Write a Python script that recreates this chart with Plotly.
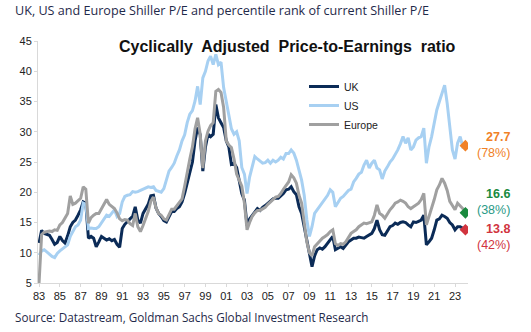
import pandas as pd
import plotly.graph_objects as go

# Quarterly dates, 1983Q1 .. 2024Q1
dates = pd.date_range("1983-01-01", "2024-01-01", freq="QS")

uk = [
    11.6, 13.7, 13.2, 13.0,  12.9, 12.2, 11.4, 11.7,  12.7, 12.0, 11.6, 12.8,
    14.3, 15.0, 15.4, 16.2,  17.1, 18.4, 18.2, 12.4,  12.7, 12.4, 11.0, 11.8,
    12.7, 12.4, 12.1, 12.3,  12.0, 12.2, 11.4, 10.9,  14.0, 14.7, 15.2, 15.6,
    16.0, 17.6, 15.4, 14.9,  16.5, 17.2, 18.0, 19.4,  19.5, 17.4, 16.5, 16.0,
    15.3, 15.1, 15.9, 16.8,  16.8, 17.3, 17.6, 18.4,  19.8, 21.5, 23.5, 25.0,
    28.5, 30.7, 29.5, 23.5,  27.5, 29.6, 29.2, 29.6,  34.5, 32.3, 31.5, 30.7,
    28.5, 27.5, 24.6, 24.8,  24.1, 22.0, 19.8, 18.7,  14.5, 15.6, 16.2, 16.8,
    17.3, 17.0, 17.5, 17.8,  18.2, 18.5, 18.9, 19.0,  19.0, 19.4, 19.8, 20.4,
    20.5, 20.9, 20.1, 19.6,  17.6, 16.5, 14.3, 11.5,  9.5, 7.7, 9.5, 10.5,
    10.8, 10.6, 11.0, 11.6,  12.2, 12.7, 10.5, 10.8,  11.0, 10.7, 11.3, 11.8,
    12.1, 12.4, 12.4, 12.6,  12.5, 12.4, 12.7, 12.9,  13.2, 14.0, 15.4, 13.8,
    13.0, 12.9, 13.7, 14.3,  14.5, 14.9, 14.7, 15.0,  15.1, 15.0, 14.6, 14.3,
    15.1, 15.0, 15.2, 15.4,  16.2, 11.3, 11.8, 12.4,  13.8, 15.4, 15.6, 16.2,
    16.0, 15.7, 15.0, 14.6,  13.8, 14.3, 14.3, 14.0,  13.8,
]

us = [
    9.6, 10.3, 10.5, 10.1,  9.8, 9.4, 9.2, 9.9,  10.3, 10.6, 11.0, 11.3,
    12.7, 13.5, 14.3, 14.6,  15.4, 18.2, 18.0, 14.0,  14.1, 14.0, 14.0, 14.3,
    14.9, 15.5, 16.2, 16.0,  16.5, 17.1, 16.0, 16.5,  18.4, 19.3, 19.5, 19.6,
    20.1, 20.0, 20.1, 20.3,  20.6, 20.8, 20.9, 20.8,  20.9, 20.3, 20.1, 20.0,
    20.6, 22.0, 23.5, 24.1,  24.8, 26.0, 27.0, 28.5,  29.5, 31.5, 32.9, 33.5,
    35.1, 37.5, 34.5, 38.9,  40.0, 41.7, 42.5, 41.1,  42.8, 41.1, 41.5, 37.3,
    35.0, 32.9, 30.5, 29.6,  30.0, 28.5, 24.1, 23.0,  19.8, 22.5, 24.0, 25.9,
    25.5, 25.2, 24.8, 24.9,  25.3, 24.8, 25.3, 25.0,  25.3, 25.8, 25.5, 26.4,
    26.4, 27.0, 26.5, 25.3,  23.5, 22.0, 19.5, 15.5,  12.7, 14.3, 16.5, 17.1,
    17.6, 18.2, 18.7, 19.5,  20.4, 20.0, 17.6, 18.2,  19.0, 19.3, 19.8, 20.3,
    20.5, 21.7, 22.3, 23.0,  23.3, 24.5, 25.3, 24.0,  24.8, 25.3, 24.0, 23.7,
    22.2, 23.5, 24.2, 25.0,  25.5, 26.2, 27.0, 28.0,  29.2, 28.1, 29.0, 27.0,
    27.5, 28.6, 29.0, 29.2,  30.6, 24.8, 27.5, 29.2,  31.5, 33.6, 35.0, 36.3,
    37.7, 34.7, 30.8, 27.0,  25.5, 28.1, 29.2, 27.5,  27.7,
]

europe = [
    5.0, 13.0, 13.4, 13.5,  13.6, 13.5, 13.8, 13.7,  14.6, 15.0, 15.8, 16.5,
    19.4, 18.0, 18.2, 18.6,  19.0, 20.9, 20.5, 14.9,  15.8, 16.2, 16.5, 16.5,
    17.3, 18.2, 18.8, 18.0,  17.6, 17.3, 16.6, 15.6,  15.3, 15.5, 15.4, 14.8,
    14.5, 16.5, 14.3, 13.5,  14.5, 15.5, 16.8, 18.5,  19.2, 17.4, 16.5, 16.2,
    15.6, 15.4, 16.2, 17.2,  17.2, 17.8, 18.3, 18.9,  21.0, 23.5, 25.5, 27.5,
    30.5, 32.3, 29.6, 24.0,  28.5, 30.1, 31.0, 31.5,  36.7, 37.0, 36.5, 34.0,
    28.5, 27.8, 27.4, 25.5,  23.0, 22.0, 21.0, 18.2,  13.8, 15.0, 16.0, 16.6,
    17.0, 17.0, 17.3, 17.5,  18.0, 18.4, 18.8, 19.2,  19.3, 19.8, 20.5, 21.2,
    21.7, 22.9, 22.4, 21.5,  19.5, 18.2, 15.0, 11.8,  10.0, 9.5, 11.0, 11.5,
    12.0, 12.4, 12.7, 13.0,  13.5, 13.8, 11.5, 11.2,  11.5, 11.4, 11.8, 12.5,
    13.2, 13.5, 13.8, 14.3,  14.6, 14.9, 14.8, 15.0,  15.1, 16.2, 17.9, 16.5,
    16.2, 15.7, 16.5, 17.1,  17.6, 18.2, 18.4, 18.7,  18.5, 18.2, 17.6, 17.3,
    17.6, 17.9, 18.2, 18.8,  19.8, 14.6, 16.0, 17.1,  18.8, 20.4, 21.2, 22.3,
    21.5, 20.3, 18.5, 17.8,  17.1, 18.2, 17.8, 17.3,  16.6,
]

percentiles = {"US": "(78%)", "Europe": "(38%)", "UK": "(42%)"}

tick_years = list(range(1983, 2024, 2))
tick_labels = [f"{y % 100:02d}" for y in tick_years]

NAVY = "#0b2b57"
LBLUE = "#a7d0f2"
GREY = "#a0a0a0"
ORANGE = "#f08127"
GREEN = "#1a8a3e"
TEAL = "#2a9a86"
RED = "#d1343e"

fig = go.Figure()
for name, vals, col in [("UK", uk, NAVY), ("US", us, LBLUE), ("Europe", europe, GREY)]:
    fig.add_trace(go.Scatter(x=dates, y=vals, mode="lines", name=name,
                             line=dict(color=col, width=3)))

for vals, col in [(us, ORANGE), (europe, GREEN), (uk, RED)]:
    fig.add_trace(go.Scatter(x=[dates[-1]], y=[vals[-1]], mode="markers",
                             marker=dict(symbol="diamond", size=9, color=col),
                             showlegend=False, hoverinfo="skip"))

# right-hand value labels (pixel offsets relative to each end value)
lab_x = (512 - 38) / 430
for vals, col, col2, key, shift in [(us, ORANGE, ORANGE, "US", 1),
                                    (europe, GREEN, TEAL, "Europe", 11),
                                    (uk, RED, RED, "UK", -7)]:
    fig.add_annotation(xref="paper", yref="y", x=lab_x, y=vals[-1], xanchor="right",
                       yanchor="middle", yshift=shift, showarrow=False, align="right",
                       text=f"<b>{vals[-1]:.1f}</b><br><span style='color:{col2}'>{percentiles[key]}</span>",
                       font=dict(family="Liberation Sans, Arial", size=12.5, color=col))

fig.add_annotation(xref="paper", yref="paper", x=(287 - 38) / 430, y=1 + (41 - 46) / 242,
                   xanchor="center", yanchor="middle", showarrow=False,
                   text="<b>Cyclically\u00a0 Adjusted\u00a0 Price-to-Earnings\u00a0 ratio</b>",
                   font=dict(family="Liberation Sans, Arial", size=16, color="#111111"))

fig.add_annotation(xref="paper", yref="paper", x=-38 / 430 + 13 / 430, y=1 + 31 / 242,
                   xanchor="left", yanchor="middle", showarrow=False,
                   text="UK, US and Europe Shiller P/E and percentile rank of current Shiller P/E",
                   font=dict(family="Open Sans", size=12.6, color="#1f2a4a"))

fig.add_annotation(xref="paper", yref="paper", x=-38 / 430 + 13 / 430, y=-(317 - 283) / 242,
                   xanchor="left", yanchor="middle", showarrow=False,
                   text="Source: Datastream, Goldman Sachs Global Investment Research",
                   font=dict(family="Open Sans", size=11.7, color="#1f2a4a"))

fig.update_layout(
    width=531, height=332,
    margin=dict(l=38, r=63, t=41, b=49),
    paper_bgcolor="white", plot_bgcolor="white",
    showlegend=True,
    legend=dict(x=(304 - 38) / 430, y=1 - (72 - 41) / 242, xanchor="left", yanchor="top",
                bgcolor="rgba(0,0,0,0)", font=dict(family="Liberation Sans, Arial", size=10.5, color="#222222"),
                tracegroupgap=0, itemwidth=30),
    xaxis=dict(type="date", range=["1982-11-25", "2024-04-01"],
               tickvals=[pd.Timestamp(f"{y}-01-01") for y in tick_years], ticktext=tick_labels,
               showgrid=False, showline=True, linecolor="#d9d9d9", linewidth=1,
               ticks="outside", ticklen=3, tickcolor="#d9d9d9",
               tickfont=dict(family="Liberation Sans, Arial", size=11, color="#222222"),
               zeroline=False),
    yaxis=dict(range=[5, 45], dtick=5, tick0=5, showgrid=False, showline=True,
               linecolor="#d9d9d9", linewidth=1, ticks="outside", ticklen=3, tickcolor="#d9d9d9",
               tickfont=dict(family="Liberation Sans, Arial", size=11, color="#222222"),
               zeroline=False),
)

fig.write_html("out.html")
